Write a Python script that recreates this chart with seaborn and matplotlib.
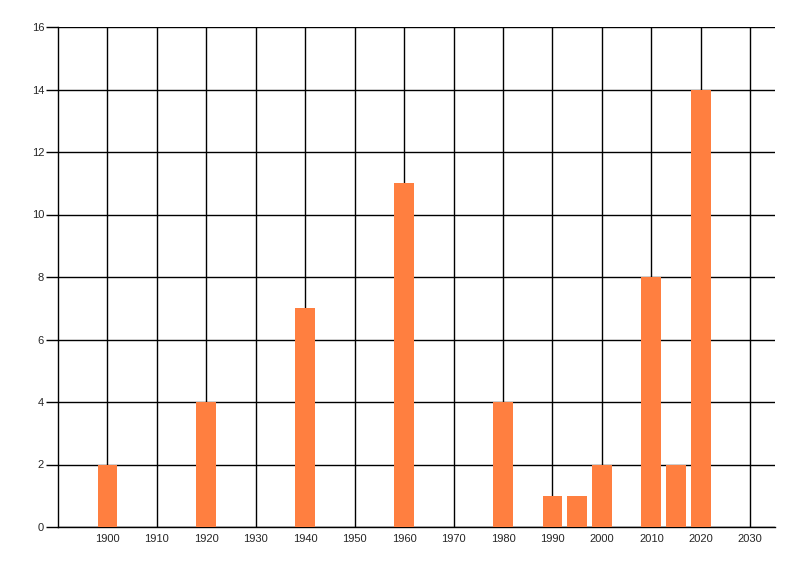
import matplotlib
matplotlib.use("Agg")
import matplotlib.pyplot as plt
import seaborn as sns
import pandas as pd

years = [1900, 1920, 1940, 1960, 1980, 1990, 1995, 2000, 2010, 2015, 2020]
counts = [2, 4, 7, 11, 4, 1, 1, 2, 8, 2, 14]
x_ticks = list(range(1900, 2031, 10))
y_ticks = list(range(0, 17, 2))

df = pd.DataFrame({"year": years, "count": counts})

sns.set_style("white")
plt.rcParams['font.family'] = ['Liberation Sans', 'DejaVu Sans']

fig = plt.figure(figsize=(8, 5.76), dpi=100)
ax = fig.add_axes([58/800, 49/576, (775-58)/800, 500/576])

sns.barplot(data=df, x="year", y="count", native_scale=True, width=0.8,
            color="#FF7F40", saturation=1, ax=ax, zorder=3, errorbar=None,
            linewidth=0, edgecolor="none")

ax.set_xlim(1890, 2035)
ax.set_ylim(0, 16)
ax.set_xticks(x_ticks)
ax.set_xticklabels([str(t) for t in x_ticks])
ax.set_yticks(y_ticks)
ax.set_yticklabels([str(t) for t in y_ticks])
ax.set_xlabel("")
ax.set_ylabel("")

ax.grid(True, color="black", linewidth=1, zorder=0)
ax.set_axisbelow(True)
for s in ["top", "right"]:
    ax.spines[s].set_visible(False)
for s in ["left", "bottom"]:
    ax.spines[s].set_color("black")
    ax.spines[s].set_linewidth(1)

ax.tick_params(axis="y", length=9, width=1, color="black", labelsize=8, pad=1, left=True)
ax.tick_params(axis="x", length=0, labelsize=8, pad=5, bottom=True)

fig.savefig("out.png", dpi=100)
